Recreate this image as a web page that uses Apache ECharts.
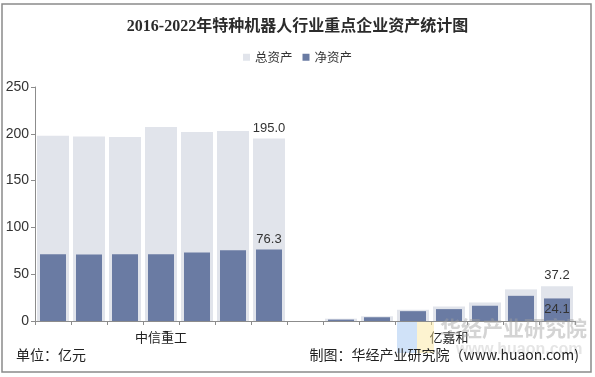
<!DOCTYPE html>
<html>
<head>
<meta charset="utf-8">
<script src="https://cdn.jsdelivr.net/npm/echarts@6/dist/echarts.min.js"></script>
<style>
  html, body { margin: 0; padding: 0; background: #fff; }
  #chart { width: 595px; height: 377px; }
</style>
</head>
<body>
<div id="chart"></div>
<script>
// 数据（单位：亿元）
const groups = ['中信重工', '亿嘉和']
const years = ['2016', '2017', '2018', '2019', '2020', '2021', '2022']
const totalZxzg = [197.8, 197.0, 196.5, 207.3, 201.8, 203.0, 195.0]
const netZxzg = [71.2, 71.1, 71.2, 71.3, 73.3, 75.5, 76.3]
const totalYjh = [2.5, 5.0, 12.0, 15.5, 19.8, 33.8, 37.2]
const netYjh = [1.5, 4.0, 10.5, 12.7, 16.3, 26.9, 24.1]
const yTicks = [0, 50, 100, 150, 200, 250]

const font = '"Noto Sans CJK SC", sans-serif'
const numFont = 'Arial, "Liberation Sans", sans-serif'

// 两组之间留一个空类目
const categories = []
years.forEach(y => categories.push(groups[0] + y))
categories.push(' ')
years.forEach(y => categories.push(groups[1] + y))
const groupLabelIdx = { 3: groups[0], 11: groups[1] }

function buildData(a, b, labelPos) {
  const out = a.map(v => v)
  out.push('-')
  b.forEach(v => out.push(v))
  return out.map((v, i) => {
    if (i === a.length - 1) return { value: v, label: { show: true, position: 'top' } }
    if (i === out.length - 1) return { value: v, label: { show: true, position: labelPos } }
    return v
  })
}

const chart = echarts.init(document.getElementById('chart'))
const xBase = {
  type: 'category',
  data: categories,
  boundaryGap: true
}
const labelStyle = {
  fontFamily: numFont,
  fontSize: 13,
  color: '#333',
  distance: 4,
  formatter: p => Number(p.value).toFixed(1)
}
chart.setOption({
  animation: false,
  title: {
    text: '2016-2022年特种机器人行业重点企业资产统计图',
    left: 'center',
    top: 14,
    textStyle: { fontFamily: '"Liberation Serif", "Noto Sans CJK SC", serif', fontWeight: 'bold', fontSize: 16, color: '#2b2b2b' }
  },
  legend: {
    top: 46,
    left: 'center',
    itemWidth: 7,
    itemHeight: 7,
    itemGap: 10,
    icon: 'rect',
    textStyle: { fontFamily: font, fontSize: 12.5, color: '#333' },
    data: ['总资产', '净资产']
  },
  grid: { left: 35, right: 20, top: 87, bottom: 56 },
  xAxis: [
    Object.assign({}, xBase, {
      axisLine: { lineStyle: { color: '#8c8c8c', width: 1 } },
      axisTick: { show: true, interval: 0, length: 4, lineStyle: { color: '#8c8c8c' } },
      axisLabel: {
        interval: 0,
        margin: 10,
        fontFamily: font,
        fontSize: 13,
        color: '#222',
        formatter: (v, i) => groupLabelIdx[i] || ''
      }
    }),
    Object.assign({}, xBase, { show: false })
  ],
  yAxis: {
    type: 'value',
    min: yTicks[0],
    max: yTicks[yTicks.length - 1],
    interval: 50,
    splitLine: { show: false },
    axisLine: { show: true, lineStyle: { color: '#8c8c8c' } },
    axisTick: { show: true, length: 4, lineStyle: { color: '#8c8c8c' } },
    axisLabel: { margin: 6, fontFamily: numFont, fontSize: 14, color: '#333' }
  },
  series: [
    {
      name: '总资产',
      type: 'bar',
      xAxisIndex: 0,
      barWidth: 32,
      itemStyle: { color: '#e1e4eb' },
      label: labelStyle,
      data: buildData(totalZxzg, totalYjh, 'top')
    },
    {
      name: '净资产',
      type: 'bar',
      xAxisIndex: 1,
      barWidth: 26,
      itemStyle: { color: '#6a7ba3' },
      label: labelStyle,
      data: buildData(netZxzg, netYjh, 'insideTop')
    }
  ],
  graphic: [
    {
      type: 'rect',
      shape: { x: 2, y: 4, width: 589, height: 368 },
      style: { fill: 'none', stroke: '#8a8a8a', lineWidth: 1.5 },
      silent: true
    },
    {
      type: 'rect', z: 50,
      shape: { x: 397, y: 322, width: 20, height: 31 },
      style: { fill: 'rgba(150,190,240,0.45)' }
    },
    {
      type: 'rect', z: 50,
      shape: { x: 417, y: 322, width: 17, height: 31 },
      style: { fill: 'rgba(250,228,150,0.45)' }
    },
    {
      type: 'text', z: 50,
      left: 440, top: 318,
      style: { text: '华经产业研究院', fontFamily: font, fontWeight: 'bold', fontSize: 21, fill: 'rgba(160,160,160,0.45)' }
    },
    {
      type: 'text', z: 50,
      left: 456, top: 342,
      style: { text: 'www.huaon.com', fontFamily: numFont, fontWeight: 'bold', fontSize: 16, fill: 'rgba(190,190,190,0.4)' }
    },
    {
      type: 'text', z: 60,
      left: 16, top: 348,
      style: { text: '单位：亿元', fontFamily: font, fontSize: 14, fill: '#222' }
    },
    {
      type: 'text', z: 60,
      right: 16, top: 348,
      style: { text: '制图：华经产业研究院（www.huaon.com)', fontFamily: font, fontSize: 14, fill: '#222' }
    }
  ]
})
</script>
</body>
</html>
